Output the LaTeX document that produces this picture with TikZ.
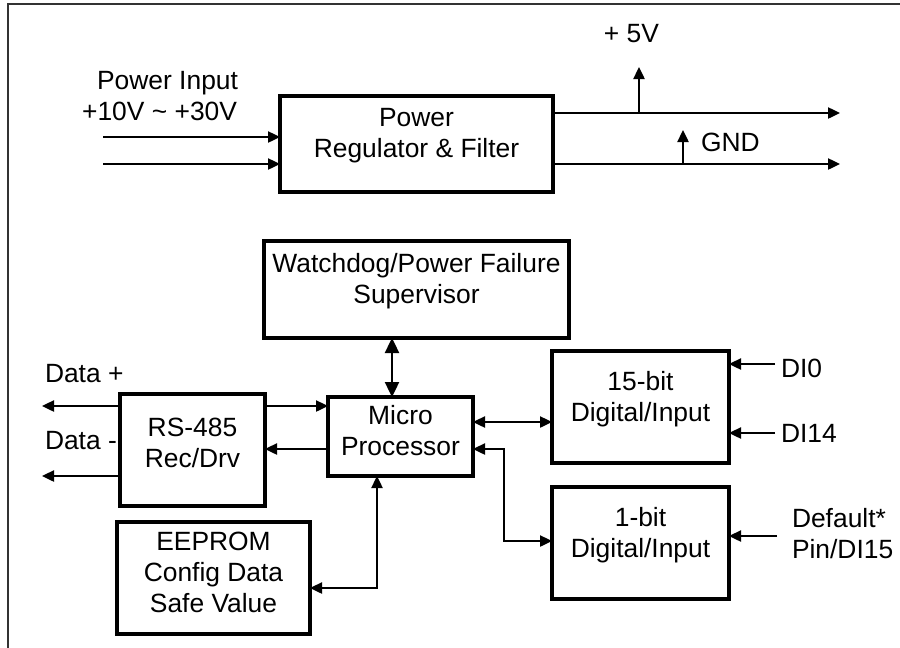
\documentclass[tikz,border=0pt]{standalone}
\usepackage{fontspec}
\setmainfont{Liberation Sans}
\usetikzlibrary{arrows.meta,calc}
\begin{document}
\begin{tikzpicture}[x=1pt,y=-1pt,
  txt/.style={font=\fontsize{26.4}{31}\selectfont, inner sep=0pt, outer sep=0pt, align=center},
  box/.style={draw, line width=3.2pt, rectangle, inner sep=0pt, outer sep=0pt},
  wire/.style={line width=2.4pt},
  arr/.style={wire, -{Triangle[length=12pt,width=11pt]}},
  darr/.style={wire, {Triangle[length=12pt,width=11pt]}-{Triangle[length=12pt,width=11pt]}},
  bigdarr/.style={wire, {Triangle[length=15pt,width=14pt]}-{Triangle[length=15pt,width=14pt]}},
  frame/.style={line width=1.8pt, draw=black!80}]
\useasboundingbox (0,0) rectangle (900,648);
\draw[frame] (8,648) -- (8,4) -- (900,4);

% boxes
\node[box, minimum width=273pt, minimum height=96pt] (pwr) at (416.5,144) {};
\node[box, minimum width=305pt, minimum height=97pt] (wd) at (416.5,289.5) {};
\node[box, minimum width=145pt, minimum height=79pt] (mp) at (400.5,436.5) {};
\node[box, minimum width=145pt, minimum height=112pt] (rs) at (192.5,450) {};
\node[box, minimum width=193pt, minimum height=112pt] (ee) at (213.5,578) {};
\node[box, minimum width=177pt, minimum height=112pt] (d15) at (640.5,407) {};
\node[box, minimum width=177pt, minimum height=112pt] (d1) at (640.5,543) {};

% box texts (anchor = baseline of last line)
\node[txt, anchor=base] (pwrT) at (416.5,157) {Power\\Regulator \& Filter};
\node[txt, anchor=base] (wdT) at (416.5,303) {Watchdog/Power Failure\\Supervisor};
\node[txt, anchor=base] (mpT) at (400.5,455) {Micro\\Processor};
\node[txt, anchor=base] (rsT) at (192.5,467) {RS-485\\Rec/Drv};
\node[txt, anchor=base] (eeT) at (213.5,612) {EEPROM\\Config Data\\Safe Value};
\node[txt, anchor=base] (d15T) at (640.5,421) {15-bit\\Digital/Input};
\node[txt, anchor=base] (d1T) at (640.5,557) {1-bit\\Digital/Input};

% free labels
\node[txt, anchor=base east] (pinL1) at (238,89) {Power Input};
\node[txt, anchor=base east] (pinL2) at (237,120) {+10V \textasciitilde{} +30V};
\node[txt, anchor=base] (v5L) at (631.5,42) {+ 5V};
\node[txt, anchor=base west] (gndL) at (701,151) {GND};
\node[txt, anchor=base west] (dpL) at (45,382) {Data +};
\node[txt, anchor=base west] (dmL) at (45,449) {Data -};
\node[txt, anchor=base west] (di0L) at (781,377) {DI0};
\node[txt, anchor=base west] (di14L) at (781,442) {DI14};
\node[txt, anchor=base west, align=left] (dfL) at (792,558) {Default*\\Pin/DI15};

% coordinates
\coordinate (pin1) at (103,137);
\coordinate (pin2) at (103,164);
\coordinate (o5) at (840,113);
\coordinate (og) at (840,164);
\coordinate (v5top) at (639,67);
\coordinate (gtop) at (683,130);
\coordinate (wx) at (392,0);
\coordinate (dp) at (42,406);
\coordinate (dm) at (42,476);
\coordinate (ry) at (0,449);
\coordinate (dy) at (0,422);
\coordinate (bend1) at (504,449);
\coordinate (bend2) at (504,541);
\coordinate (ex) at (377,588);
\coordinate (c0) at (775,364);
\coordinate (c14) at (775,433);
\coordinate (cdf) at (777,536);

% power connectors
\draw[arr] (pin1) -- (pin1 -| pwr.west);
\draw[arr] (pin2) -- (pin2 -| pwr.west);
\draw[arr] (o5 -| pwr.east) -- (o5);
\draw[arr] (og -| pwr.east) -- (og);
\draw[arr] (v5top |- o5) -- (v5top);
\draw[arr] (gtop |- og) -- (gtop);

% processor connectors
\draw[bigdarr] (wx |- wd.south) -- (wx |- mp.north);
\draw[arr] (dp -| rs.west) -- (dp);
\draw[arr] (dm -| rs.west) -- (dm);
\draw[arr] (dp -| rs.east) -- (dp -| mp.west);
\draw[arr] (ry -| mp.west) -- (ry -| rs.east);
\draw[darr] (dy -| mp.east) -- (dy -| d15.west);
\draw[darr] (ry -| mp.east) -- (bend1) -- (bend2) -- (bend2 -| d1.west);
\draw[darr] (ex |- mp.south) -- (ex) -- (ex -| ee.east);

% digital inputs
\draw[arr] (c0) -- (c0 -| d15.east);
\draw[arr] (c14) -- (c14 -| d15.east);
\draw[arr] (cdf) -- (cdf -| d1.east);
\end{tikzpicture}
\end{document}
